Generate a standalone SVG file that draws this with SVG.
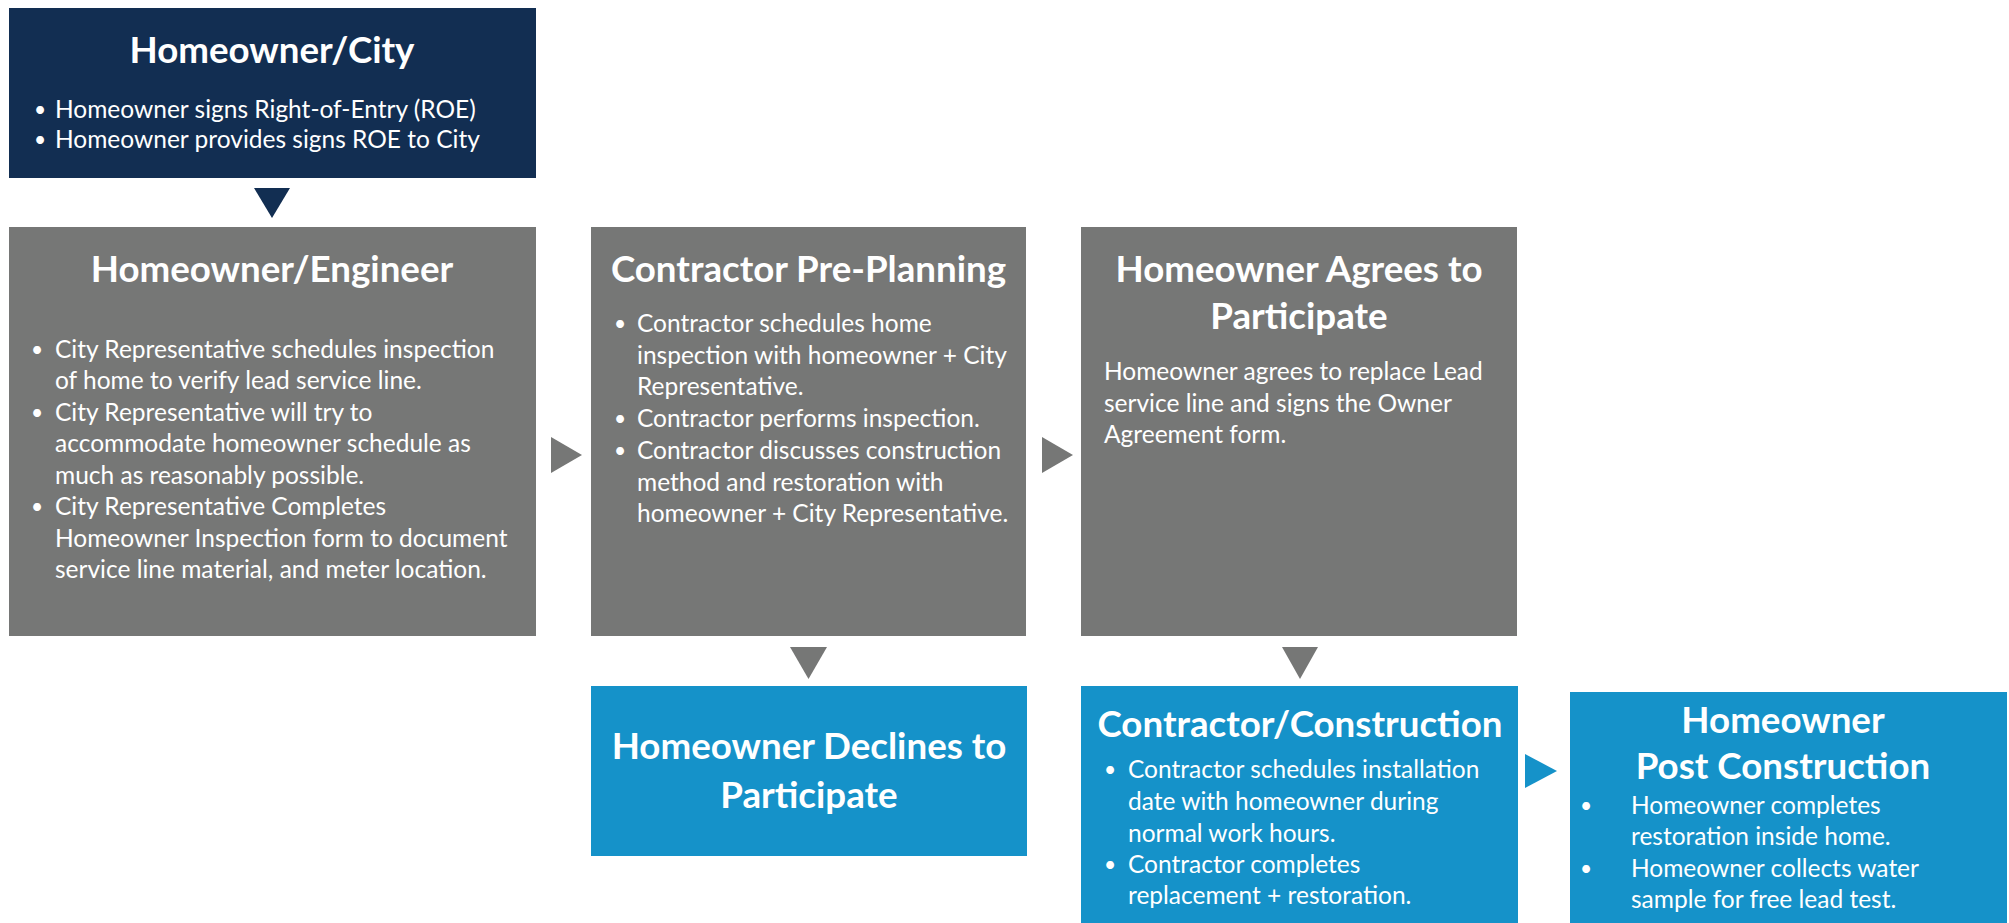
<svg xmlns="http://www.w3.org/2000/svg" width="2009" height="923" viewBox="0 0 2009 923">
<style>
.navy{fill:#122e52}
.gray{fill:#767776}
.blue{fill:#1592c9}
text{fill:#ffffff;font-family:Lato,"Open Sans","Liberation Sans",sans-serif}
.t{font-weight:bold;font-size:36.7px;text-anchor:middle}
.b{font-size:24.5px}
.d{font-size:21px;text-anchor:middle}
</style>
<rect width="2009" height="923" fill="#ffffff"/>
<g id="connectors">
<polygon class="navy" points="254,188 290,188 272,218"/>
<polygon class="gray" points="551,437 551,473 582,455"/>
<polygon class="gray" points="1042,437 1042,473 1073,455"/>
<polygon class="gray" points="790,647 827,647 808.5,679"/>
<polygon class="gray" points="1282,647 1318,647 1300,679"/>
<polygon class="blue" points="1525,754 1525,788 1557,771"/>
</g>
<g id="homeowner-city">
<rect class="navy" x="9" y="8" width="527" height="170"/>
<text class="t" x="272" y="63">Homeowner/City</text>
<text class="d" x="40" y="117">•</text><text class="b" x="55" y="118">Homeowner signs Right-of-Entry (ROE)</text>
<text class="d" x="40" y="147">•</text><text class="b" x="55" y="148">Homeowner provides signs ROE to City</text>
</g>
<g id="homeowner-engineer">
<rect class="gray" x="9" y="227" width="527" height="409"/>
<text class="t" x="272" y="282">Homeowner/Engineer</text>
<text class="d" x="37" y="357">•</text><text class="b" x="55" y="358">City Representative schedules inspection</text>
<text class="b" x="55" y="389.4">of home to verify lead service line.</text>
<text class="d" x="37" y="420">•</text><text class="b" x="55" y="420.9">City Representative will try to</text>
<text class="b" x="55" y="452.3">accommodate homeowner schedule as</text>
<text class="b" x="55" y="483.7">much as reasonably possible.</text>
<text class="d" x="37" y="514">•</text><text class="b" x="55" y="515">City Representative Completes</text>
<text class="b" x="55" y="546.6">Homeowner Inspection form to document</text>
<text class="b" x="55" y="578">service line material, and meter location.</text>
</g>
<g id="contractor-pre-planning">
<rect class="gray" x="591" y="227" width="435" height="409"/>
<text class="t" x="808.5" y="282">Contractor Pre-Planning</text>
<text class="d" x="620" y="331">•</text><text class="b" x="637" y="332">Contractor schedules home</text>
<text class="b" x="637" y="363.7">inspection with homeowner + City</text>
<text class="b" x="637" y="395.4">Representative.</text>
<text class="d" x="620" y="426">•</text><text class="b" x="637" y="427">Contractor performs inspection.</text>
<text class="d" x="620" y="458">•</text><text class="b" x="637" y="458.8">Contractor discusses construction</text>
<text class="b" x="637" y="490.5">method and restoration with</text>
<text class="b" x="637" y="522">homeowner + City Representative.</text>
</g>
<g id="homeowner-agrees">
<rect class="gray" x="1081" y="227" width="436" height="409"/>
<text class="t" x="1299" y="282">Homeowner Agrees to</text>
<text class="t" x="1299" y="329">Participate</text>
<text class="b" x="1104" y="380">Homeowner agrees to replace Lead</text>
<text class="b" x="1104" y="411.5">service line and signs the Owner</text>
<text class="b" x="1104" y="443">Agreement form.</text>
</g>
<g id="homeowner-declines">
<rect class="blue" x="591" y="686" width="436" height="170"/>
<text class="t" x="809" y="759">Homeowner Declines to</text>
<text class="t" x="809" y="808">Participate</text>
</g>
<g id="contractor-construction">
<rect class="blue" x="1081" y="686" width="437" height="240"/>
<text class="t" x="1300" y="737">Contractor/Construction</text>
<text class="d" x="1110" y="777">•</text><text class="b" x="1128" y="778">Contractor schedules installation</text>
<text class="b" x="1128" y="810">date with homeowner during</text>
<text class="b" x="1128" y="842">normal work hours.</text>
<text class="d" x="1110" y="872">•</text><text class="b" x="1128" y="873">Contractor completes</text>
<text class="b" x="1128" y="904">replacement + restoration.</text>
</g>
<g id="homeowner-post-construction">
<rect class="blue" x="1570" y="692" width="437" height="234"/>
<text class="t" x="1783" y="733">Homeowner</text>
<text class="t" x="1783" y="779">Post Construction</text>
<text class="d" x="1586" y="813">•</text><text class="b" x="1631" y="814">Homeowner completes</text>
<text class="b" x="1631" y="845">restoration inside home.</text>
<text class="d" x="1586" y="876">•</text><text class="b" x="1631" y="877">Homeowner collects water</text>
<text class="b" x="1631" y="908">sample for free lead test.</text>
</g>
</svg>
